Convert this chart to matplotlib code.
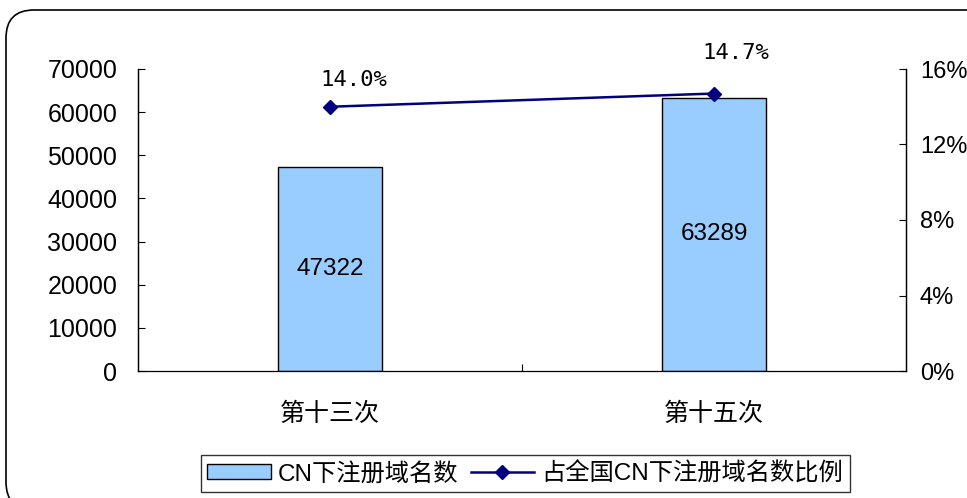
import matplotlib
matplotlib.use("Agg")
import matplotlib.pyplot as plt
from matplotlib.patches import FancyBboxPatch
from matplotlib.transforms import IdentityTransform

plt.rcParams['font.family'] = ['Liberation Sans', 'Noto Sans CJK SC']

# data
categories = ['第十三次', '第十五次']
cn_domains = [47322, 63289]
share_pct = [14.0, 14.7]
share_labels = ['14.0%', '14.7%']
left_ticks = [0, 10000, 20000, 30000, 40000, 50000, 60000, 70000]
right_ticks = [0, 4, 8, 12, 16]
bar_name = 'CN下注册域名数'
line_name = '占全国CN下注册域名数比例'

fig = plt.figure(figsize=(9.67, 4.98), dpi=100)
ax = fig.add_axes([138/967, 127/498, 768/967, 302/498])
ax2 = ax.twinx()

x = list(range(len(categories)))
bars = ax.bar(x, cn_domains, width=0.27, color='#99CCFF', edgecolor='black',
              linewidth=1.0, label=bar_name, zorder=2)
ax.bar_label(bars, labels=[str(v) for v in cn_domains], label_type='center',
             fontsize=17.5, color='black')

line, = ax2.plot(x, share_pct, color='#000080', linewidth=1.8, marker='D',
                 markersize=7, label=line_name, zorder=3)
offsets = [(17, 19), (16, 29)]
for xi, yi, lab, off in zip(x, share_pct, share_labels, offsets):
    ax2.annotate(lab, (xi, yi), xytext=off, textcoords='offset points',
                 ha='center', va='center', fontsize=16,
                 family='DejaVu Sans Mono', color='black')

ax.set_xlim(-0.5, 1.5)
ax.set_ylim(0, 70000)
ax2.set_ylim(0, 16)
ax.set_yticks(left_ticks)
ax.set_yticklabels([str(t) for t in left_ticks])
ax2.set_yticks(right_ticks)
ax2.set_yticklabels(['%d%%' % t for t in right_ticks])

ax.set_xticks(x)
ax.set_xticklabels(categories)
ax.set_xticks([0.5], minor=True)
ax.tick_params(axis='x', which='major', length=0, pad=22, labelsize=18)
ax.tick_params(axis='x', which='minor', direction='in', length=5, width=0.8)
ax.tick_params(axis='y', direction='in', length=5, width=0.8, pad=15, labelsize=18)
ax2.tick_params(axis='y', direction='in', length=5, width=0.8, pad=10, labelsize=17)

for a in (ax, ax2):
    a.spines['top'].set_visible(False)
    for s in a.spines.values():
        s.set_linewidth(0.9)
ax2.spines['bottom'].set_visible(False)

leg = fig.legend(handles=[bars, line], labels=[bar_name, line_name], ncol=2,
                 loc='center', bbox_to_anchor=(0.543, 0.049), fontsize=17.5,
                 frameon=True, fancybox=False, edgecolor='black',
                 handlelength=2.6, handleheight=0.6, handletextpad=0.3,
                 columnspacing=0.5, borderpad=0.28, borderaxespad=0)
leg.get_frame().set_linewidth(1.0)

# rounded outer frame, right and bottom edges run off the picture
border = FancyBboxPatch((6, -12), 990, 500, boxstyle='round,pad=0,rounding_size=28',
                        transform=IdentityTransform(), facecolor='none',
                        edgecolor='black', linewidth=1.2)
fig.patches.append(border)

fig.savefig('out.png', dpi=100)
